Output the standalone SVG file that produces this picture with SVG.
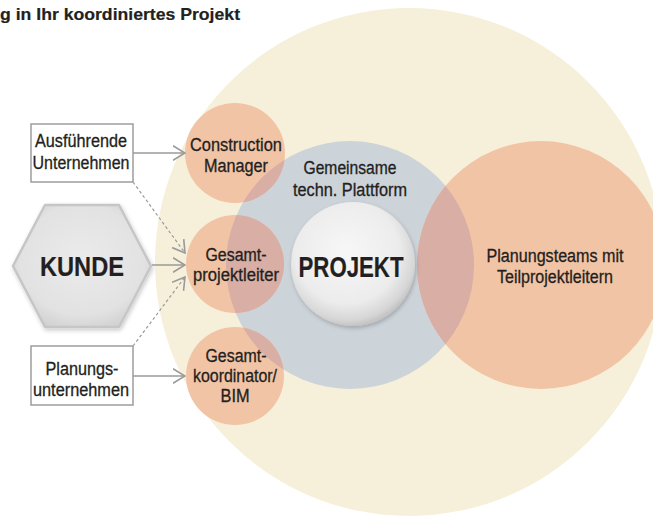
<svg xmlns="http://www.w3.org/2000/svg" width="653" height="522" viewBox="0 0 653 522">
<style>
.t{font-family:"Liberation Sans",Arial,sans-serif;fill:#231f20;font-size:18px;text-anchor:middle;stroke:#231f20;stroke-width:0.3}
.b{font-weight:bold;stroke-width:0.2}
.box{fill:#ffffff;stroke:#9d9d9d;stroke-width:1.5}
.org{fill:#f2c4a6}
.ov{fill:#d8aea5}
.con{fill:none;stroke:#9a9a9a;stroke-width:1.6}
.dash{stroke-dasharray:3 2.5;stroke-width:1.2}
</style>
<defs>
<marker id="chev" markerUnits="userSpaceOnUse" viewBox="0 0 13 16" refX="12" refY="8" markerWidth="13" markerHeight="16" orient="auto">
<path d="M0,0.8 L12,8 L0,15.2" fill="none" stroke="#9a9a9a" stroke-width="1.6"/>
</marker>
<clipPath id="grayClip"><circle cx="350" cy="265" r="124"/></clipPath>
<radialGradient id="ball" cx="0.45" cy="0.4" r="0.6">
<stop offset="0" stop-color="#f7f7f7"/>
<stop offset="0.7" stop-color="#ececec"/>
<stop offset="0.92" stop-color="#d6d6d6"/>
<stop offset="1" stop-color="#c4c4c4"/>
</radialGradient>
<radialGradient id="hex" cx="0.5" cy="0.45" r="0.6">
<stop offset="0" stop-color="#ebebeb"/>
<stop offset="0.75" stop-color="#e2e2e2"/>
<stop offset="1" stop-color="#d0d0d0"/>
</radialGradient>
<filter id="sh" x="-20%" y="-20%" width="140%" height="140%">
<feDropShadow dx="1" dy="2" stdDeviation="2" flood-color="#000" flood-opacity="0.22"/>
</filter>
</defs>

<text class="t b" x="0" y="20" style="text-anchor:start;font-size:17px" textLength="240" lengthAdjust="spacingAndGlyphs">g in Ihr koordiniertes Projekt</text>

<g id="umfeld"><circle cx="409" cy="262" r="254" fill="#f6f0da"/></g>
<g id="plattform">
<circle cx="350" cy="265" r="124" fill="#ccd3d9"/>
<text class="t" x="350" y="174" textLength="93" lengthAdjust="spacingAndGlyphs">Gemeinsame</text>
<text class="t" x="350" y="196" textLength="114" lengthAdjust="spacingAndGlyphs">techn. Plattform</text>
</g>
<g id="planungsteams">
<circle class="org" cx="541" cy="265" r="124"/>
<circle class="ov" cx="541" cy="265" r="124" clip-path="url(#grayClip)"/>
<text class="t" x="555" y="262" textLength="137" lengthAdjust="spacingAndGlyphs">Planungsteams mit</text>
<text class="t" x="555" y="283" textLength="116" lengthAdjust="spacingAndGlyphs">Teilprojektleitern</text>
</g>
<g id="construction-manager">
<circle class="org" cx="235" cy="153" r="50"/>
<circle class="ov" cx="235" cy="153" r="50" clip-path="url(#grayClip)"/>
<text class="t" x="236" y="151" textLength="92" lengthAdjust="spacingAndGlyphs">Construction</text>
<text class="t" x="236" y="172" textLength="64" lengthAdjust="spacingAndGlyphs">Manager</text>
</g>
<g id="gesamtprojektleiter">
<circle class="org" cx="235" cy="264" r="49"/>
<circle class="ov" cx="235" cy="264" r="49" clip-path="url(#grayClip)"/>
<text class="t" x="236" y="261" textLength="61" lengthAdjust="spacingAndGlyphs">Gesamt-</text>
<text class="t" x="236" y="281" textLength="86" lengthAdjust="spacingAndGlyphs">projektleiter</text>
</g>
<g id="gesamtkoordinator">
<circle class="org" cx="235" cy="376" r="49"/>
<circle class="ov" cx="235" cy="376" r="49" clip-path="url(#grayClip)"/>
<text class="t" x="236" y="362" textLength="61" lengthAdjust="spacingAndGlyphs">Gesamt-</text>
<text class="t" x="235" y="382" textLength="84" lengthAdjust="spacingAndGlyphs">koordinator/</text>
<text class="t" x="235" y="402" textLength="29" lengthAdjust="spacingAndGlyphs">BIM</text>
</g>
<g id="projekt">
<circle cx="353" cy="264" r="62" fill="url(#ball)" filter="url(#sh)"/>
<text class="t b" x="351" y="277" style="font-size:29px" textLength="105" lengthAdjust="spacingAndGlyphs">PROJEKT</text>
</g>
<g id="kunde">
<polygon points="13,266 45,205 119,205 151,266 119,327 45,327" fill="url(#hex)" stroke="#c6c6c6" stroke-width="2.5" stroke-linejoin="round" filter="url(#sh)"/>
<text class="t b" x="82" y="276" style="font-size:27px" textLength="84" lengthAdjust="spacingAndGlyphs">KUNDE</text>
</g>
<g id="ausfuehrende-unternehmen">
<rect class="box" x="31" y="124" width="102" height="58"/>
<text class="t" x="81" y="147" textLength="92" lengthAdjust="spacingAndGlyphs">Ausführende</text>
<text class="t" x="81" y="169" textLength="97" lengthAdjust="spacingAndGlyphs">Unternehmen</text>
</g>
<g id="planungsunternehmen">
<rect class="box" x="31" y="346" width="102" height="59"/>
<text class="t" x="82" y="375" textLength="73" lengthAdjust="spacingAndGlyphs">Planungs-</text>
<text class="t" x="81" y="396" textLength="96" lengthAdjust="spacingAndGlyphs">unternehmen</text>
</g>
<g id="connectors">
<line class="con" x1="133" y1="153" x2="185" y2="153" marker-end="url(#chev)"/>
<line class="con" x1="152" y1="265" x2="185" y2="265" marker-end="url(#chev)"/>
<line class="con" x1="133" y1="376" x2="185" y2="376" marker-end="url(#chev)"/>
<line class="con dash" x1="133" y1="182" x2="185" y2="253" marker-end="url(#chev)"/>
<line class="con dash" x1="133" y1="346" x2="185" y2="277" marker-end="url(#chev)"/>
</g>
</svg>
